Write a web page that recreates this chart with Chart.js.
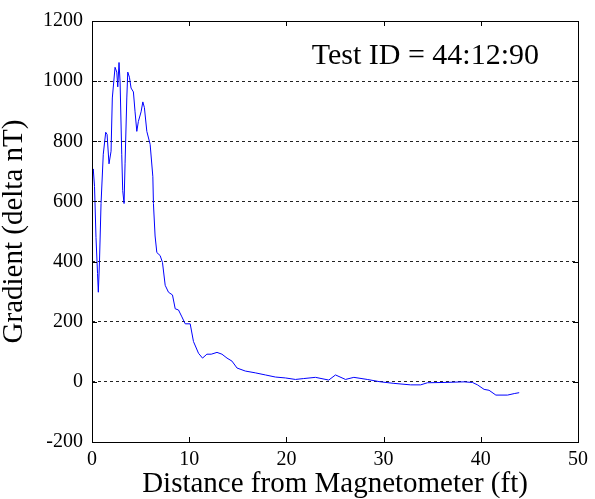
<!DOCTYPE html>
<html>
<head>
<meta charset="utf-8">
<script src="https://cdn.jsdelivr.net/npm/chart.js@4"></script>
<style>
  body { margin: 0; background: #fff; }
  #wrap { width: 595px; height: 499px; }
</style>
</head>
<body>
<div id="wrap"><canvas id="chart1"></canvas></div>
<script>
// distance (ft) and gradient (delta nT)
var distance = [0.0, 0.13, 0.26, 0.41, 0.57, 0.65, 0.77, 0.93, 1.16, 1.41, 1.55, 1.75, 1.96, 2.09, 2.37, 2.55, 2.65, 2.78, 2.89, 3.06, 3.16, 3.30, 3.40, 3.58, 3.68, 3.85, 4.02, 4.26, 4.43, 4.61, 4.77, 5.05, 5.23, 5.39, 5.64, 5.98, 6.26, 6.32, 6.49, 6.67, 7.01, 7.25, 7.53, 7.87, 8.28, 8.56, 8.90, 9.25, 9.59, 10.10, 10.44, 10.96, 11.37, 11.82, 12.27, 12.86, 13.37, 13.89, 14.40, 14.92, 15.77, 16.80, 17.84, 18.87, 19.90, 20.93, 21.78, 22.99, 24.36, 25.05, 26.08, 26.94, 28.32, 29.69, 31.06, 32.78, 33.81, 34.51, 36.22, 38.28, 39.14, 39.66, 40.34, 40.85, 41.55, 42.75, 43.44, 43.95];
var gradient = [692, 708, 650, 480, 360, 298, 400, 593, 757, 830, 823, 725, 767, 944, 1046, 1030, 981, 1062, 997, 757, 636, 593, 725, 944, 1030, 1013, 977, 964, 898, 833, 866, 898, 931, 912, 833, 790, 682, 593, 485, 430, 420, 397, 321, 298, 289, 243, 239, 216, 193, 193, 134, 95, 79, 92, 92, 98, 92, 79, 69, 46, 36, 30, 23, 16, 13, 8, 11, 15, 6, 23, 8, 15, 8, 0, -5, -10, -10, -3, -2, 0, -2, -10, -25, -28, -44, -44, -39, -36];
var xTicks = [0, 10, 20, 30, 40, 50];
var yTicks = [-200, 0, 200, 400, 600, 800, 1000, 1200];
var testLabel = 'Test ID = 44:12:90';

var serif = '"Liberation Serif", "Times New Roman", serif';
Chart.defaults.font.family = serif;
Chart.defaults.color = '#000';
var pts = distance.map(function (d, i) { return {x: d, y: gradient[i]}; });

// box around the plot, ticks pointing inward, label in the corner
var boxPlugin = {
  id: 'box',
  afterDraw: function (chart) {
    var c = chart.ctx, a = chart.chartArea;
    var xs = chart.scales.x, ys = chart.scales.y;
    c.save();
    c.strokeStyle = '#000';
    c.lineWidth = 1;
    c.strokeRect(a.left + 0.5, a.top + 0.5, a.right - a.left, a.bottom - a.top);
    c.beginPath();
    xTicks.forEach(function (t) {
      var px = Math.round(xs.getPixelForValue(t)) + 0.5;
      c.moveTo(px, a.bottom); c.lineTo(px, a.bottom - 5);
      c.moveTo(px, a.top); c.lineTo(px, a.top + 5);
    });
    yTicks.forEach(function (t) {
      var py = Math.round(ys.getPixelForValue(t)) + 0.5;
      c.moveTo(a.left, py); c.lineTo(a.left + 5, py);
      c.moveTo(a.right, py); c.lineTo(a.right - 5, py);
    });
    c.stroke();
    c.fillStyle = '#000';
    c.font = '30px ' + serif;
    c.textAlign = 'right';
    c.textBaseline = 'alphabetic';
    c.fillText(testLabel, a.right - 39, a.top + 43);
    c.restore();
  }
};

var ctx = document.getElementById('chart1').getContext('2d');
var chart1 = new Chart(ctx, {
  type: 'scatter',
  data: {
    datasets: [{
      data: pts,
      showLine: true,
      borderColor: '#0000ff',
      borderWidth: 1,
      pointRadius: 0,
      tension: 0
    }]
  },
  options: {
    responsive: true,
    maintainAspectRatio: false,
    animation: false,
    layout: { padding: { top: 14, right: 17, left: 0, bottom: 0 } },
    plugins: { legend: { display: false }, tooltip: { enabled: false } },
    scales: {
      x: {
        type: 'linear',
        min: 0, max: 50,
        afterBuildTicks: function (s) { s.ticks = xTicks.map(function (v) { return {value: v}; }); },
        afterFit: function (s) { s.height = 57; },
        grid: { display: false, drawTicks: false },
        border: { display: false },
        ticks: {
          color: '#000', padding: 6, font: { family: serif, size: 20 },
          callback: function (v) { return String(v); }
        },
        title: {
          display: true,
          text: 'Distance from Magnetometer (ft)',
          color: '#000',
          font: { family: serif, size: 29, lineHeight: 1 },
          padding: { top: 0, bottom: 0 }
        }
      },
      y: {
        min: -200, max: 1200,
        afterBuildTicks: function (s) { s.ticks = yTicks.map(function (v) { return {value: v}; }); },
        afterFit: function (s) { s.width = 92; },
        grid: {
          drawTicks: false,
          color: function (c) {
            var v = c.tick ? c.tick.value : null;
            return (v === 1200 || v === -200) ? 'rgba(0,0,0,0)' : '#222';
          }
        },
        border: { display: false, dash: [3, 3] },
        ticks: {
          color: '#000', padding: 9, font: { family: serif, size: 20 },
          callback: function (v) { return String(v); }
        },
        title: {
          display: true,
          text: 'Gradient (delta nT)',
          color: '#000',
          font: { family: serif, size: 29, lineHeight: 1 },
          padding: { top: 0, bottom: 14 }
        }
      }
    }
  },
  plugins: [boxPlugin]
});
</script>
</body>
</html>
